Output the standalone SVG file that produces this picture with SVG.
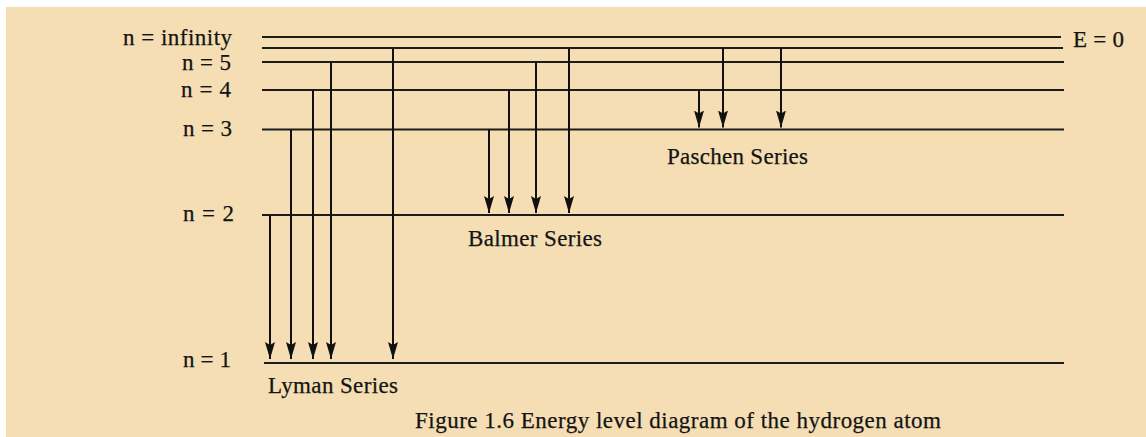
<svg xmlns="http://www.w3.org/2000/svg" width="1146" height="437" viewBox="0 0 1146 437">
<style>
.lvl{stroke:#1c1c1c;stroke-width:2;fill:none}
.arr{stroke:#111;stroke-width:2;fill:none;marker-end:url(#ah)}
text{font-family:"Liberation Serif","Times New Roman",serif;font-size:23px;fill:#141414;stroke:#141414;stroke-width:0.25}
</style>
<defs>
<marker id="ah" markerUnits="userSpaceOnUse" markerWidth="18" markerHeight="10" refX="17" refY="5" orient="auto" viewBox="0 0 18 10">
<path d="M0,0 L17,5 L0,10 L3,5 z" fill="#111"/>
</marker>
</defs>
<rect x="6" y="7" width="1140" height="430" fill="#F5DEB3"/>
<g id="levels">
<g id="n-inf"><line class="lvl" x1="262" y1="37" x2="1061" y2="37"/><line class="lvl" x1="262" y1="48" x2="1063" y2="48"/><text x="123" y="45" textLength="109">n = infinity</text></g>
<g id="n5"><line class="lvl" x1="262" y1="62" x2="1064" y2="62"/><text x="182" y="70" textLength="49">n = 5</text></g>
<g id="n4"><line class="lvl" x1="262" y1="90" x2="1064" y2="90"/><text x="181" y="96.5" textLength="50">n = 4</text></g>
<g id="n3"><line class="lvl" x1="262" y1="129.5" x2="1064" y2="129.5"/><text x="183" y="136" textLength="49">n = 3</text></g>
<g id="n2"><line class="lvl" x1="262" y1="215" x2="1064" y2="215"/><text x="183" y="221" textLength="51">n = 2</text></g>
<g id="n1"><line class="lvl" x1="264" y1="363" x2="1064" y2="363"/><text x="183" y="366.5" textLength="48">n = 1</text></g>
<g id="e0"><text x="1073" y="46.5" textLength="51">E = 0</text></g>
</g>
<g id="connectors">
<line class="arr" x1="270" y1="215" x2="270" y2="359"/>
<line class="arr" x1="291" y1="129.5" x2="291" y2="359"/>
<line class="arr" x1="313" y1="90" x2="313" y2="359"/>
<line class="arr" x1="331" y1="62" x2="331" y2="359"/>
<line class="arr" x1="393" y1="48" x2="393" y2="359"/>
<line class="arr" x1="489" y1="129.5" x2="489" y2="213"/>
<line class="arr" x1="509" y1="90" x2="509" y2="213"/>
<line class="arr" x1="536" y1="62" x2="536" y2="213"/>
<line class="arr" x1="569" y1="48" x2="569" y2="213"/>
<line class="arr" x1="699" y1="90" x2="699" y2="127.5"/>
<line class="arr" x1="723" y1="48" x2="723" y2="127.5"/>
<line class="arr" x1="781" y1="48" x2="781" y2="127.5"/>
</g>
<g id="labels">
<text x="268" y="392.5" textLength="130">Lyman Series</text>
<text x="468" y="245.5" textLength="134">Balmer Series</text>
<text x="667" y="164" textLength="141">Paschen Series</text>
<text x="415" y="427.5" textLength="526">Figure 1.6 Energy level diagram of the hydrogen atom</text>
</g>
</svg>
